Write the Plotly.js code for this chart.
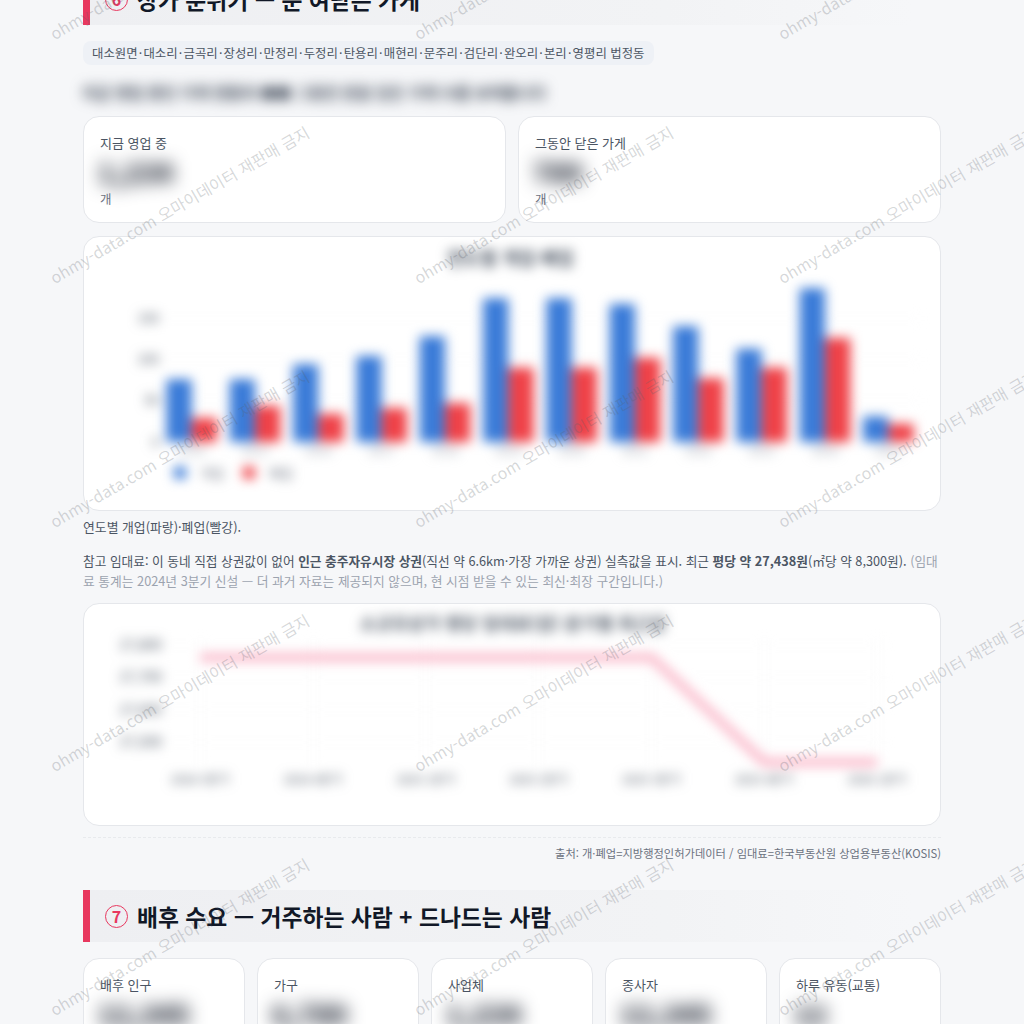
<!DOCTYPE html>
<html lang="ko"><head><meta charset="utf-8">
<script src="https://cdn.plot.ly/plotly-3.0.1.min.js"></script>
<style>
html,body{margin:0;padding:0;width:1024px;height:1024px;overflow:hidden;background:#f6f7f9;font-family:"Noto Sans CJK KR","Noto Sans",sans-serif;color:#374151}
.a{position:absolute;white-space:nowrap}
.head{position:absolute;left:83px;width:830px;height:52px;background:linear-gradient(90deg,#eeeff2 0%,#f2f3f5 70%,#f6f7f9 100%);border-left:7px solid #e8385f;box-sizing:border-box}
.head span{position:absolute;left:47px;top:12px;font-size:22.8px;font-weight:700;color:#111827;line-height:30px;white-space:nowrap}
.head i{position:absolute;left:15px;top:15px;width:23px;height:23px;border:1.5px solid #e8385f;border-radius:50%;box-sizing:border-box;color:#e8385f;font-style:normal;font-weight:700;font-size:16px;line-height:20px;text-align:center}
.card{position:absolute;background:#fff;border:1px solid #e5e7eb;border-radius:16px;box-sizing:border-box;overflow:hidden}
.lab{position:absolute;left:16px;top:16px;font-size:13px;color:#4b5563;white-space:nowrap;line-height:20px}
.val{position:absolute;left:14px;top:37px;font-size:27px;font-weight:900;color:#111827;filter:blur(9px);white-space:nowrap;line-height:36px}
.unit{position:absolute;left:16px;top:73px;font-size:12.5px;color:#6b7280;line-height:18px}
.plot{position:absolute;left:0;top:0;filter:blur(6px)}
.pill u{text-decoration:none;margin:0 1.2px}
#wm{position:absolute;left:0;top:0;width:1024px;height:1024px;pointer-events:none;overflow:hidden}
#wm div{position:absolute;white-space:nowrap;font-size:16px;color:rgba(90,95,105,.25);transform-origin:0 100%;transform:rotate(-30deg);line-height:20px;letter-spacing:.1px}
</style></head><body>

<div class="head" style="top:-27px"><i>6</i><span>상가 분위기 — 문 여닫은 가게</span></div>
<div class="a pill" style="left:83px;top:41px;width:571px;height:24px;background:#eef1f6;border-radius:8px;font-size:12.4px;line-height:24px;color:#4b5563;padding-left:9px;box-sizing:border-box">대소원면<u>·</u>대소리<u>·</u>금곡리<u>·</u>장성리<u>·</u>만정리<u>·</u>두정리<u>·</u>탄용리<u>·</u>매현리<u>·</u>문주리<u>·</u>검단리<u>·</u>완오리<u>·</u>본리<u>·</u>영평리 법정동</div>
<div class="a" style="left:82px;top:80px;font-size:15.5px;font-weight:700;line-height:24px;color:#374151;filter:blur(6.5px)">지금 영업 중인 가게 현황과 ■■ 그동안 문을 닫은 가게 수를 보여줍니다</div>

<div class="card" style="left:83px;top:116px;width:423px;height:107px"><div class="lab">지금 영업 중</div><div class="val">1,234</div><div class="unit">개</div></div>
<div class="card" style="left:518px;top:116px;width:423px;height:107px"><div class="lab">그동안 닫은 가게</div><div class="val">789</div><div class="unit">개</div></div>

<div class="card" style="left:83px;top:236px;width:858px;height:275px"><div id="bars" class="plot"></div></div>

<div class="a" style="left:83px;top:517px;font-size:12.85px;line-height:20px;color:#4b5563">연도별 개업(파랑)·폐업(빨강).</div>
<div class="a" style="left:83px;top:551px;font-size:12.7px;line-height:20px;color:#4b5563">참고 임대료: 이 동네 직접 상권값이 없어 <b>인근 충주자유시장 상권</b>(직선 약 6.6km·가장 가까운 상권) 실측값을 표시. 최근 <b>평당 약 27,438원</b>(㎡당 약 8,300원). <span style="color:#9ca3af">(임대</span></div>
<div class="a" style="left:83px;top:571px;font-size:12.75px;line-height:20px;color:#9ca3af">료 통계는 2024년 3분기 신설 — 더 과거 자료는 제공되지 않으며, 현 시점 받을 수 있는 최신·최장 구간입니다.)</div>

<div class="card" style="left:83px;top:603px;width:858px;height:223px"><div id="line" class="plot"></div></div>

<div class="a" style="left:83px;top:837px;width:858px;border-top:1px dashed #e8eaed"></div>
<div class="a" style="right:83px;top:844px;font-size:11.25px;line-height:18px;color:#6b7280">출처: 개·폐업=지방행정인허가데이터 / 임대료=한국부동산원 상업용부동산(KOSIS)</div>

<div class="head" style="top:890px"><i>7</i><span>배후 수요 — 거주하는 사람 + 드나드는 사람</span></div>

<div class="card" style="left:83px;top:958px;width:162px;height:120px"><div class="lab">배후 인구</div><div class="val">12,345</div></div>
<div class="card" style="left:257px;top:958px;width:162px;height:120px"><div class="lab">가구</div><div class="val">6,789</div></div>
<div class="card" style="left:431px;top:958px;width:162px;height:120px"><div class="lab">사업체</div><div class="val">1,234</div></div>
<div class="card" style="left:605px;top:958px;width:162px;height:120px"><div class="lab">종사자</div><div class="val">12,345</div></div>
<div class="card" style="left:779px;top:958px;width:162px;height:120px"><div class="lab">하루 유동(교통)</div><div class="val">12</div></div>

<div id="wm"></div>

<script>
const years = ['2014','2015','2016','2017','2018','2019','2020','2021','2022','2023','2024','2025'];
const openings = [76,76,94,104,128,174,174,167,140,113,186,31];
const closures = [29,44,34,41,47,90,90,102,77,90,126,22];
const barTicks = [0,50,100,150];

const quarters = ['2024 3분기','2024 4분기','2025 1분기','2025 2분기','2025 3분기','2025 4분기','2026 1분기'];
const rent = [27762,27762,27762,27762,27762,27438,27438];
const rentTicks = [27500,27600,27700,27800];

const cfg = {displayModeBar:false,staticPlot:true};
const font = {family:'"Noto Sans CJK KR","Noto Sans",sans-serif',size:12,color:'#6b7280'};

Plotly.newPlot('bars',[
  {type:'bar',name:'개업',x:years,y:openings,marker:{color:'#3a7bd8'}},
  {type:'bar',name:'폐업',x:years,y:closures,marker:{color:'#ef4147'}}
],{
  width:858,height:275,paper_bgcolor:'rgba(0,0,0,0)',plot_bgcolor:'rgba(0,0,0,0)',font,
  title:{text:'<b>연도별 개업·폐업</b>',x:0.497,xanchor:'center',y:0.922,yanchor:'middle',font:{size:18,color:'#4b5563',family:font.family}},
  margin:{l:76,r:22,t:48,b:70},barmode:'group',bargap:0.2,bargroupgap:0,
  xaxis:{type:'category',showgrid:false,zeroline:false,showline:false,ticks:'',tickfont:{size:12,color:'#9ca3af'}},
  yaxis:{range:[0,190],tickvals:barTicks,showgrid:true,gridcolor:'#f6f7f8',zeroline:false,showline:false,tickfont:{size:13,color:'#4b5563'}},
  showlegend:true,
  legend:{orientation:'h',x:0,xanchor:'left',y:-0.1,yanchor:'top',font:{size:13,color:'#6b7280'},itemwidth:30,traceorder:'normal'}
},cfg);

Plotly.newPlot('line',[
  {type:'scatter',mode:'lines',x:quarters,y:rent,line:{color:'#fab4c6',width:8},cliponaxis:false}
],{
  width:858,height:223,paper_bgcolor:'rgba(0,0,0,0)',plot_bgcolor:'rgba(0,0,0,0)',font,
  title:{text:'<b>소규모상가 평당 임대료(원) 분기별 최근값</b>',x:0.5,xanchor:'center',y:0.91,yanchor:'middle',font:{size:17.5,color:'#4b5563',family:font.family}},
  margin:{l:79,r:57,t:33,b:59},showlegend:false,
  xaxis:{type:'category',range:[-0.33,6.07],showgrid:true,gridcolor:'#f8f8f9',zeroline:false,showline:false,ticks:'',tickfont:{size:12,color:'#4b5563'},ticklabelstandoff:3},
  yaxis:{range:[27420,27825],tickvals:rentTicks,tickformat:',d',showgrid:true,gridcolor:'#f8f8f9',zeroline:false,showline:false,tickfont:{size:14,color:'#4b5563'}}
},cfg);

const wmText = 'ohmy-data.com 오마이데이터 재판매 금지';
const wm = document.getElementById('wm');
for(let r=-1;r<6;r++){for(let c=-1;c<3;c++){
  const d=document.createElement('div');d.textContent=wmText;
  d.style.left=(56+c*364)+'px';d.style.top=(23+r*244)+'px';wm.appendChild(d);
}}
</script>
</body></html>
